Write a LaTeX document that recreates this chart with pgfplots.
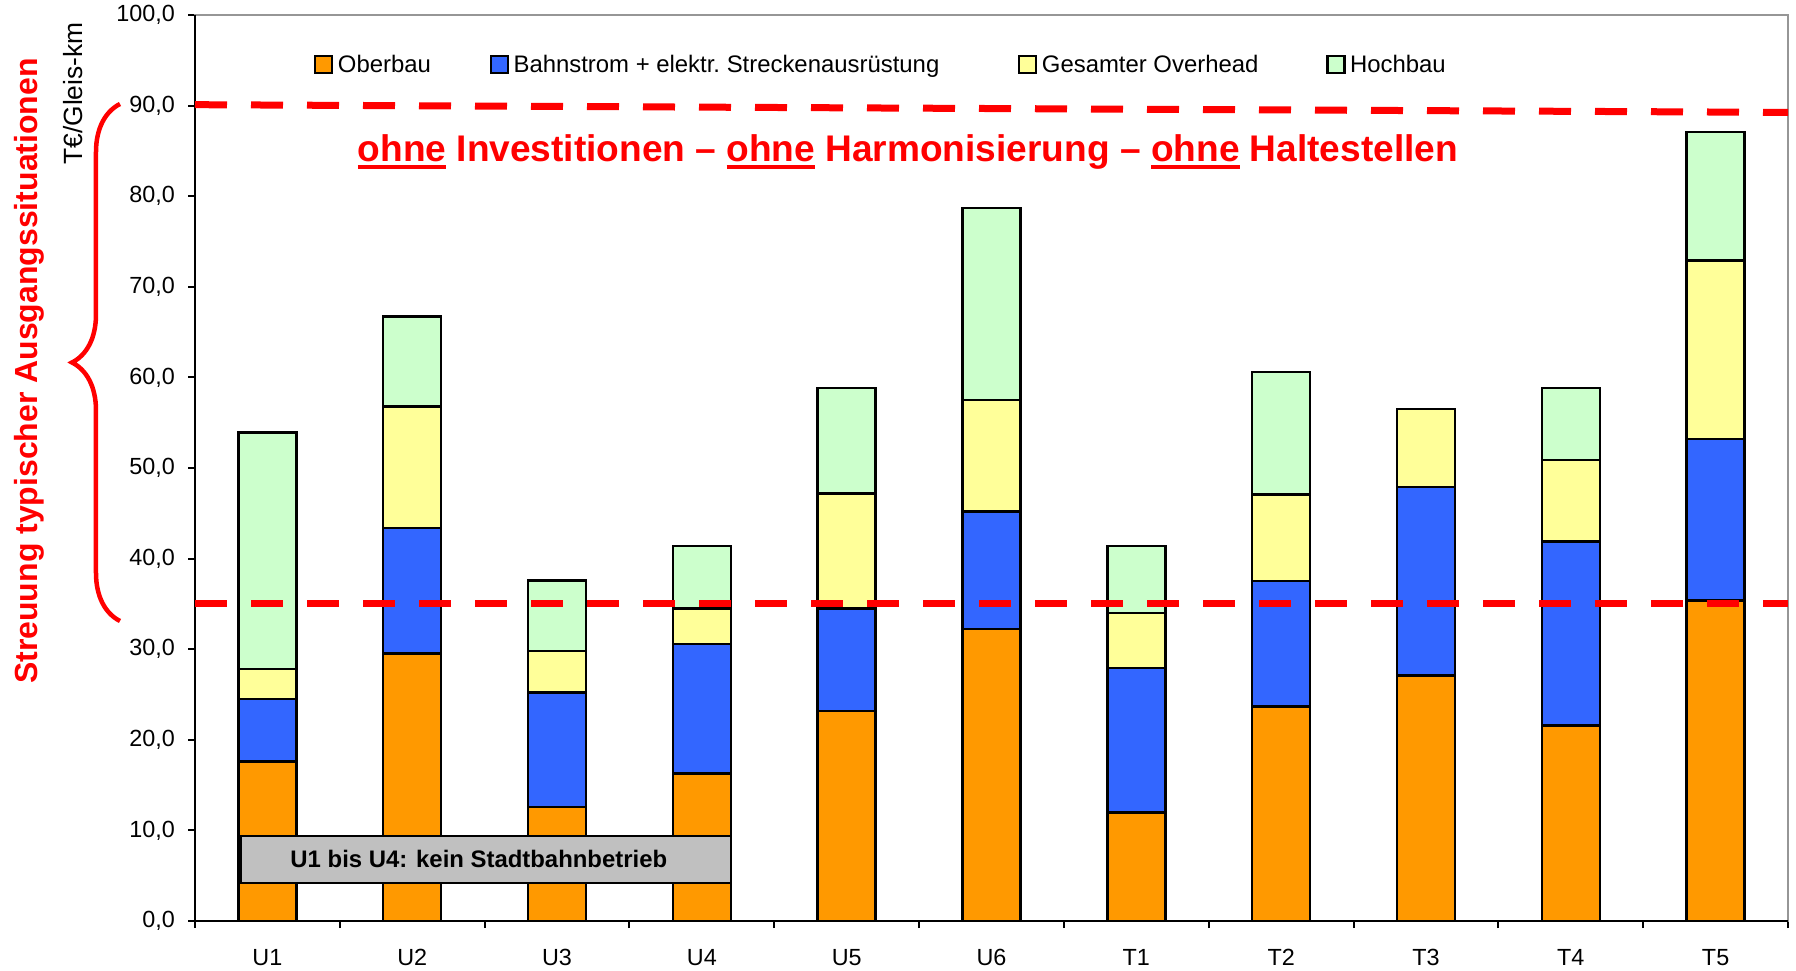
\documentclass[border=0pt]{standalone}
\usepackage{fontspec}
\setmainfont{Liberation Sans}
\usepackage{pgfplots}
\pgfplotsset{compat=1.18}
\usetikzlibrary{calc,decorations.pathreplacing}

\definecolor{cOber}{HTML}{FF9900}
\definecolor{cBahn}{HTML}{3366FF}
\definecolor{cOver}{HTML}{FFFF99}
\definecolor{cHoch}{HTML}{CCFFCC}
\definecolor{frame}{HTML}{969696}
\definecolor{boxgray}{HTML}{C0C0C0}

\newlength\ohnew
\newcommand\uohne{\settowidth\ohnew{ohne}\rlap{\rule[-0.2em]{\ohnew}{0.1em}}ohne}

\begin{document}
\begin{tikzpicture}
\pgfplotsset{
  basis/.style={width=31.86cm, height=18.12cm, scale only axis,
    xmin=-0.5, xmax=10.5, ymin=0, ymax=100, clip=false}
}
\begin{axis}[basis, name=ax,
  ybar stacked, bar width=0.4,
  axis line style={draw=frame, line width=1.1pt},
  xtick={-0.5,0.5,...,10.5}, x tick label as interval,
  xticklabels={U1,U2,U3,U4,U5,U6,T1,T2,T3,T4,T5},
  ytick={0,10,...,100},
  tick align=outside, xtick pos=bottom, ytick pos=left,
  major tick length=0.14cm,
  tick style={black, line width=1.1pt},
  tick label style={font=\fontsize{13.3}{15}\selectfont},
  xticklabel style={yshift=-0.3cm},
  /pgf/number format/assume math mode=true,
  yticklabel style={xshift=-0.14cm, /pgf/number format/.cd, fixed, fixed zerofill, precision=1, use comma},
  legend columns=4,
  legend image code/.code={\draw[#1, line width=1.2pt] (0cm,-0.17cm) rectangle (0.34cm,0.17cm);},
  legend style={at={(rel axis cs:0.0747,0.945)}, anchor=west, draw=none, fill=none,
    inner sep=0pt, font=\fontsize{13.6}{16}\selectfont,
    nodes={inner xsep=0pt, inner ysep=1pt},
    /tikz/column 1/.style={column sep=0.09cm},
    /tikz/column 3/.style={column sep=0.09cm},
    /tikz/column 5/.style={column sep=0.09cm},
    /tikz/column 7/.style={column sep=0.09cm},
    /tikz/column 2/.style={column sep=1.18cm},
    /tikz/column 4/.style={column sep=1.58cm},
    /tikz/column 6/.style={column sep=1.36cm}},
]
\addplot[fill=cOber, draw=black, line width=1.4pt] coordinates {
  (0,17.6) (1,29.5) (2,12.6) (3,16.3) (4,23.2) (5,32.2)
  (6,12.0) (7,23.7) (8,27.1) (9,21.6) (10,35.4)};
\addplot[fill=cBahn, draw=black, line width=1.4pt] coordinates {
  (0,6.9) (1,13.9) (2,12.6) (3,14.3) (4,11.3) (5,13.0)
  (6,15.9) (7,13.8) (8,20.8) (9,20.3) (10,17.8)};
\addplot[fill=cOver, draw=black, line width=1.4pt] coordinates {
  (0,3.3) (1,13.4) (2,4.6) (3,3.9) (4,12.7) (5,12.3)
  (6,6.1) (7,9.6) (8,8.6) (9,9.0) (10,19.7)};
\addplot[fill=cHoch, draw=black, line width=1.4pt] coordinates {
  (0,26.1) (1,9.9) (2,7.8) (3,6.9) (4,11.6) (5,21.2)
  (6,7.4) (7,13.5) (8,0) (9,7.9) (10,14.2)};
\legend{Oberbau, Bahnstrom + elektr.\ Streckenausrüstung, Gesamter Overhead, Hochbau}

\draw[black, line width=1.1pt] (rel axis cs:0,1) -- (rel axis cs:0,0) -- (rel axis cs:1,0);
\end{axis}

\begin{axis}[basis, at={(ax.south west)}, anchor=south west, hide axis]
\addplot[red, no markers, line width=0.14cm, dash pattern=on 0.64cm off 0.48cm]
  coordinates {(-0.5,90.1) (10.5,89.25)};
\addplot[red, no markers, line width=0.14cm, dash pattern=on 0.64cm off 0.48cm]
  coordinates {(-0.5,35.0) (10.5,35.0)};
\draw[fill=boxgray, draw=black, line width=1.2pt] (axis cs:-0.18,4.2) rectangle (axis cs:3.2,9.4);
\node[font=\bfseries\fontsize{13.6}{16}\selectfont] at (axis cs:1.46,6.8) {U1 bis U4: kein Stadtbahnbetrieb};
\end{axis}

\node[anchor=base, text=red, font=\bfseries\fontsize{21.1}{25}\selectfont]
  at ($(ax.south west)+(14.26,15.19)$)
  {\uohne{} Investitionen – \uohne{} Harmonisierung – \uohne{} Haltestellen};
\draw[red, line width=0.09cm, decorate, decoration={brace, amplitude=0.96cm}]
  ($(ax.south west)+(-1.5,6.0)$) -- ($(ax.south west)+(-1.5,16.34)$);
\node[anchor=base, rotate=90, text=red, font=\bfseries\fontsize{18.2}{22}\selectfont]
  at ($(ax.south west)+(-3.14,11.0)$) {Streuung typischer Ausgangssituationen};
\node[anchor=base, rotate=90, font=\fontsize{15}{18}\selectfont]
  at ($(ax.south west)+(-2.24,16.55)$) {T€/Gleis-km};

\pgfresetboundingbox
\path[use as bounding box] ($(ax.south west)+(-3.9,-0.98)$) rectangle ($(ax.south west)+(32.02,18.42)$);
\end{tikzpicture}
\end{document}
